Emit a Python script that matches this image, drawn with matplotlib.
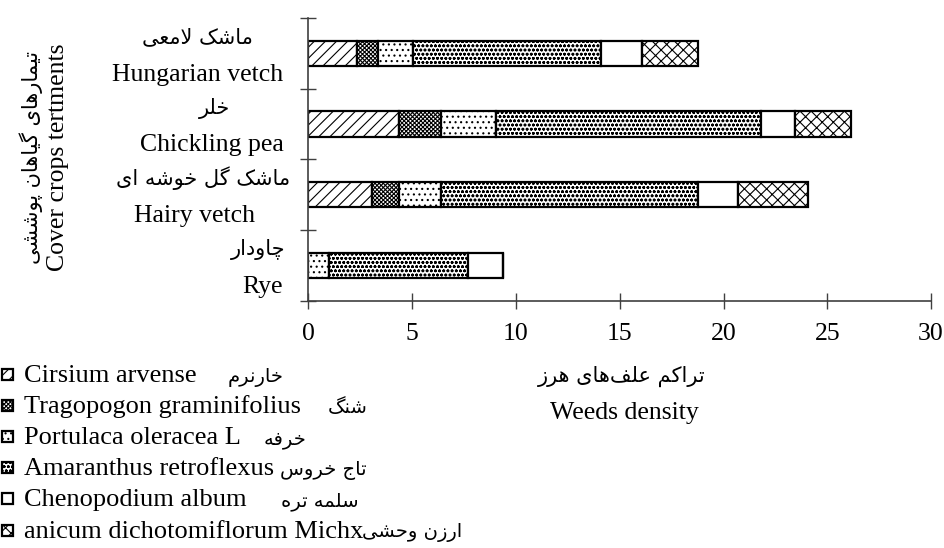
import matplotlib
matplotlib.use("Agg")
import matplotlib.pyplot as plt
from matplotlib.patches import Rectangle
import numpy as np

plt.rcParams['font.family'] = ['Liberation Serif', 'DejaVu Sans']
plt.rcParams['hatch.linewidth'] = 0.8

# ---------------- data ----------------
crops_en = ["Rye", "Hairy vetch", "Chickling pea", "Hungarian vetch"]
crops_fa = ["چاودار", "ماشک گل خوشه ای", "خلر", "ماشک لامعی"]

weeds_en = ["Cirsium arvense", "Tragopogon graminifolius", "Portulaca oleracea L",
            "Amaranthus retroflexus", "Chenopodium album", "anicum dichotomiflorum Michx"]
weeds_fa = ["خارنرم", "شنگ", "خرفه", "تاج خروس", "سلمه تره", "ارزن وحشی"]

# values per weed, order of crops_en (Rye, Hairy vetch, Chickling pea, Hungarian vetch)
cirsium     = [0.0, 3.05, 4.35, 2.36]
tragopogon  = [0.0, 1.33, 2.06, 1.01]
portulaca   = [1.01, 2.00, 2.62, 1.66]
amaranthus  = [6.70, 12.38, 12.76, 9.05]
chenopodium = [1.65, 1.95, 1.64, 2.01]
panicum     = [0.0, 3.37, 2.70, 2.68]

xticks = [0, 5, 10, 15, 20, 25, 30]
ytitle_fa = "تیمارهای گیاهان پوششی"
ytitle_en = "Cover crops tertments"
xtitle_fa = "تراکم علف\u200cهای هرز"
xtitle_en = "Weeds density"

# ---------------- minimal Persian shaping ----------------
AR = {
    '\u0627': (0xFE8D, 0xFE8E, None, None),
    '\u062F': (0xFEA9, 0xFEAA, None, None),
    '\u0631': (0xFEAD, 0xFEAE, None, None),
    '\u0632': (0xFEAF, 0xFEB0, None, None),
    '\u0648': (0xFEED, 0xFEEE, None, None),
    '\u062A': (0xFE95, 0xFE96, 0xFE97, 0xFE98),
    '\u062C': (0xFE9D, 0xFE9E, 0xFE9F, 0xFEA0),
    '\u0686': (0xFB7A, 0xFB7B, 0xFB7C, 0xFB7D),
    '\u062D': (0xFEA1, 0xFEA2, 0xFEA3, 0xFEA4),
    '\u062E': (0xFEA5, 0xFEA6, 0xFEA7, 0xFEA8),
    '\u0633': (0xFEB1, 0xFEB2, 0xFEB3, 0xFEB4),
    '\u0634': (0xFEB5, 0xFEB6, 0xFEB7, 0xFEB8),
    '\u0639': (0xFEC9, 0xFECA, 0xFECB, 0xFECC),
    '\u0641': (0xFED1, 0xFED2, 0xFED3, 0xFED4),
    '\u06A9': (0xFB8E, 0xFB8F, 0xFB90, 0xFB91),
    '\u0643': (0xFED9, 0xFEDA, 0xFEDB, 0xFEDC),
    '\u06AF': (0xFB92, 0xFB93, 0xFB94, 0xFB95),
    '\u0644': (0xFEDD, 0xFEDE, 0xFEDF, 0xFEE0),
    '\u0645': (0xFEE1, 0xFEE2, 0xFEE3, 0xFEE4),
    '\u0646': (0xFEE5, 0xFEE6, 0xFEE7, 0xFEE8),
    '\u0647': (0xFEE9, 0xFEEA, 0xFEEB, 0xFEEC),
    '\u067E': (0xFB56, 0xFB57, 0xFB58, 0xFB59),
    '\u06CC': (0xFBFC, 0xFBFD, 0xFBFE, 0xFBFF),
    '\u064A': (0xFBFC, 0xFBFD, 0xFBFE, 0xFBFF),
}
LAM, ALEF = '\u0644', '\u0627'


def shape(s):
    ch = list(s)
    n = len(ch)
    out = []
    dual = lambda c: c in AR and AR[c][2] is not None
    i = 0
    while i < n:
        c = ch[i]
        if c == '\u200c':
            i += 1
            continue
        if c not in AR:
            out.append(c)
            i += 1
            continue
        prev = ch[i - 1] if i > 0 else ''
        jp = dual(prev)
        if c == LAM and i + 1 < n and ch[i + 1] == ALEF:
            out.append(chr(0xFEFC if jp else 0xFEFB))
            i += 2
            continue
        nxt = ch[i + 1] if i + 1 < n else ''
        jn = dual(c) and (nxt in AR)
        f = AR[c]
        g = f[3] if (jp and jn) else f[1] if jp else f[2] if jn else f[0]
        out.append(chr(g))
        i += 1
    return ''.join(reversed(out))


# ---------------- figure ----------------
W, H = 945, 548
fig = plt.figure(figsize=(W / 100, H / 100), dpi=100)
x0, x1, ytop, ybot = 308.3, 931.1, 17.9, 300.7
ax = fig.add_axes([x0 / W, 1 - ybot / H, (x1 - x0) / W, (ybot - ytop) / H])

series = [cirsium, tragopogon, portulaca, amaranthus, chenopodium, panicum]
hatches = ['///', 'xxxxxxxx', '...', 'oooo', '', 'xxx']
ypos = np.arange(len(crops_en))
left = np.zeros(len(crops_en))
containers = []
for vals, h, en in zip(series, hatches, weeds_en):
    bc = ax.barh(ypos, vals, left=left, height=0.36, color='white',
                 edgecolor='black', linewidth=1.6, hatch=h, label=en)
    containers.append(bc)
    left = left + np.array(vals)

ax.set_xlim(0, 30)
ax.set_ylim(-0.5, len(crops_en) - 0.5)
ax.set_xticks(xticks)
ax.set_xticklabels([str(t) for t in xticks])
ax.set_yticks(np.arange(-0.5, len(crops_en), 1.0))
ax.set_yticklabels([])
for s in ['top', 'right']:
    ax.spines[s].set_visible(False)
for s in ['left', 'bottom']:
    ax.spines[s].set_color('#404040')
    ax.spines[s].set_linewidth(1.2)
ax.tick_params(axis='both', direction='inout', length=12, width=1.0,
               color='#404040', labelsize=18.5, labelcolor='black')
ax.tick_params(axis='x', pad=10)

# category labels (two lines: Persian above, English below)
fa_cx = [258, 203, 215, 197]
en_cx = [263, 195, 212, 198]
for i in range(len(crops_en)):
    ax.annotate(shape(crops_fa[i]), xy=(fa_cx[i] / W, ypos[i]),
                xycoords=('figure fraction', 'data'), xytext=(0, 10),
                textcoords='offset pixels', ha='center', va='baseline',
                fontsize=15, family=['DejaVu Sans'])
    ax.annotate(crops_en[i], xy=(en_cx[i] / W, ypos[i]),
                xycoords=('figure fraction', 'data'), xytext=(0, -27.5),
                textcoords='offset pixels', ha='center', va='baseline',
                fontsize=18.5)

# axis titles
fig.text(31 / W, 1 - 157 / H, shape(ytitle_fa), rotation=90, ha='center',
         va='center', fontsize=15, family=['DejaVu Sans'])
fig.text(58 / W, 1 - 157 / H, ytitle_en, rotation=90, ha='center',
         va='center', fontsize=18.5)
fig.text(622 / W, 1 - 382 / H, shape(xtitle_fa), ha='center', va='baseline',
         fontsize=15, family=['DejaVu Sans'])
fig.text(624 / W, 1 - 419 / H, xtitle_en, ha='center', va='baseline',
         fontsize=18.5)

# legend (manual rows: hatched swatch, Latin name, Persian name)
fa_x = [228, 328, 264, 280, 281, 362]
base0, step = 382, 31.1
for k, bc in enumerate(containers):
    yb = base0 + k * step
    fig.add_artist(Rectangle((2 / W, 1 - (yb - 2) / H), 11 / W, 11 / H,
                             transform=fig.transFigure, facecolor='white',
                             edgecolor='black', linewidth=1.6,
                             hatch=bc.patches[0].get_hatch()))
    fig.text(24 / W, 1 - yb / H, bc.get_label(), ha='left', va='baseline',
             fontsize=19)
    fig.text(fa_x[k] / W, 1 - yb / H, shape(weeds_fa[k]), ha='left',
             va='baseline', fontsize=14, family=['DejaVu Sans'])

fig.savefig("out.png", dpi=100)
